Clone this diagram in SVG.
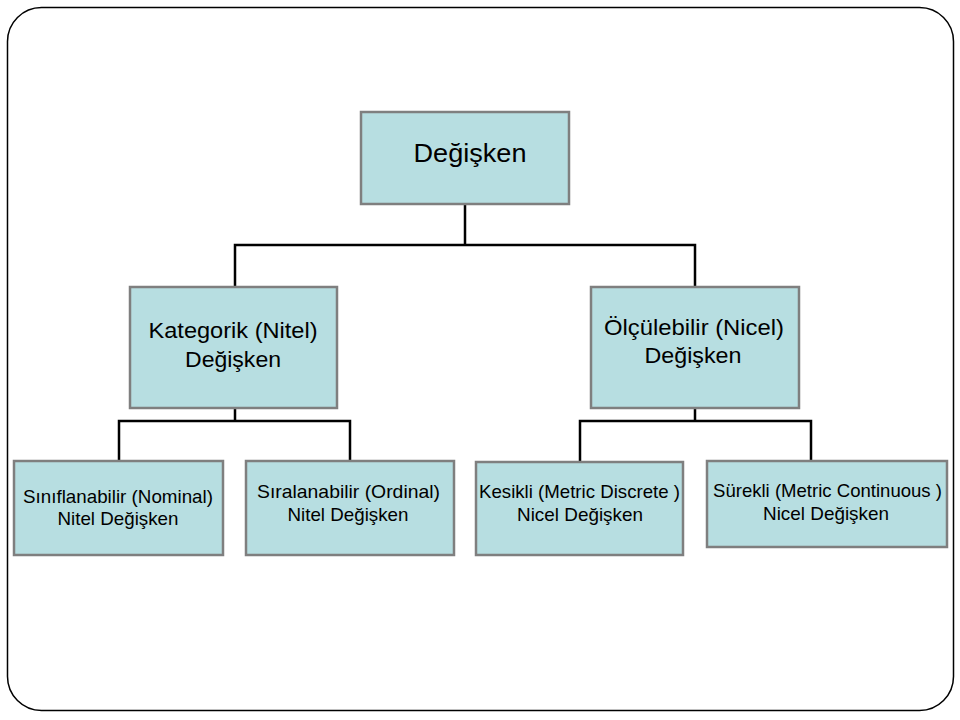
<svg xmlns="http://www.w3.org/2000/svg" width="960" height="720" viewBox="0 0 960 720">
<style>
.box{fill:#b7dee1;stroke:#7f7f7f;stroke-width:2.5}
.t{font-family:"Liberation Sans",Arial,sans-serif;fill:#000;text-anchor:middle}
.l{font-size:22px}
.s{font-size:19px}
.c{fill:none;stroke:#000;stroke-width:2.5}
</style>
<rect x="7.5" y="7.5" width="946" height="703" rx="34" ry="34" fill="#fff" stroke="#000" stroke-width="1.5"/>
<g id="connectors">
<path class="c" d="M465,204V245M235,287V245H695V287"/>
<path class="c" d="M235,408V421M119,461V421H350V461"/>
<path class="c" d="M695,408V421M580,461V421H811V461"/>
</g>
<g id="n-degisken">
<rect class="box" x="361" y="112" width="208" height="92"/>
<text class="t" x="470" y="162" font-size="26" textLength="113" lengthAdjust="spacingAndGlyphs">Değişken</text>
</g>
<g id="n-kategorik">
<rect class="box" x="130" y="287" width="207" height="121"/>
<text class="t l" x="233" y="338" textLength="169" lengthAdjust="spacingAndGlyphs">Kategorik (Nitel)</text>
<text class="t l" x="233" y="367" textLength="96" lengthAdjust="spacingAndGlyphs">Değişken</text>
</g>
<g id="n-olculebilir">
<rect class="box" x="591" y="287" width="208" height="121"/>
<text class="t l" x="694" y="335" textLength="180" lengthAdjust="spacingAndGlyphs">Ölçülebilir (Nicel)</text>
<text class="t l" x="693" y="363" textLength="97" lengthAdjust="spacingAndGlyphs">Değişken</text>
</g>
<g id="n-siniflanabilir">
<rect class="box" x="14" y="461" width="209" height="94"/>
<text class="t s" x="118" y="503" textLength="190" lengthAdjust="spacingAndGlyphs">Sınıflanabilir (Nominal)</text>
<text class="t s" x="118" y="525" textLength="121" lengthAdjust="spacingAndGlyphs">Nitel Değişken</text>
</g>
<g id="n-siralanabilir">
<rect class="box" x="246" y="461" width="208" height="94"/>
<text class="t s" x="348.5" y="498" textLength="183" lengthAdjust="spacingAndGlyphs">Sıralanabilir  (Ordinal)</text>
<text class="t s" x="348" y="521" textLength="121" lengthAdjust="spacingAndGlyphs">Nitel Değişken</text>
</g>
<g id="n-kesikli">
<rect class="box" x="476" y="462" width="207" height="93"/>
<text class="t s" x="579.5" y="498" textLength="201" lengthAdjust="spacingAndGlyphs">Kesikli (Metric Discrete )</text>
<text class="t s" x="580" y="521" textLength="126" lengthAdjust="spacingAndGlyphs">Nicel Değişken</text>
</g>
<g id="n-surekli">
<rect class="box" x="707" y="461" width="240" height="86"/>
<text class="t s" x="827.5" y="497" textLength="229" lengthAdjust="spacingAndGlyphs">Sürekli (Metric Continuous )</text>
<text class="t s" x="826" y="520" textLength="126" lengthAdjust="spacingAndGlyphs">Nicel Değişken</text>
</g>
</svg>
